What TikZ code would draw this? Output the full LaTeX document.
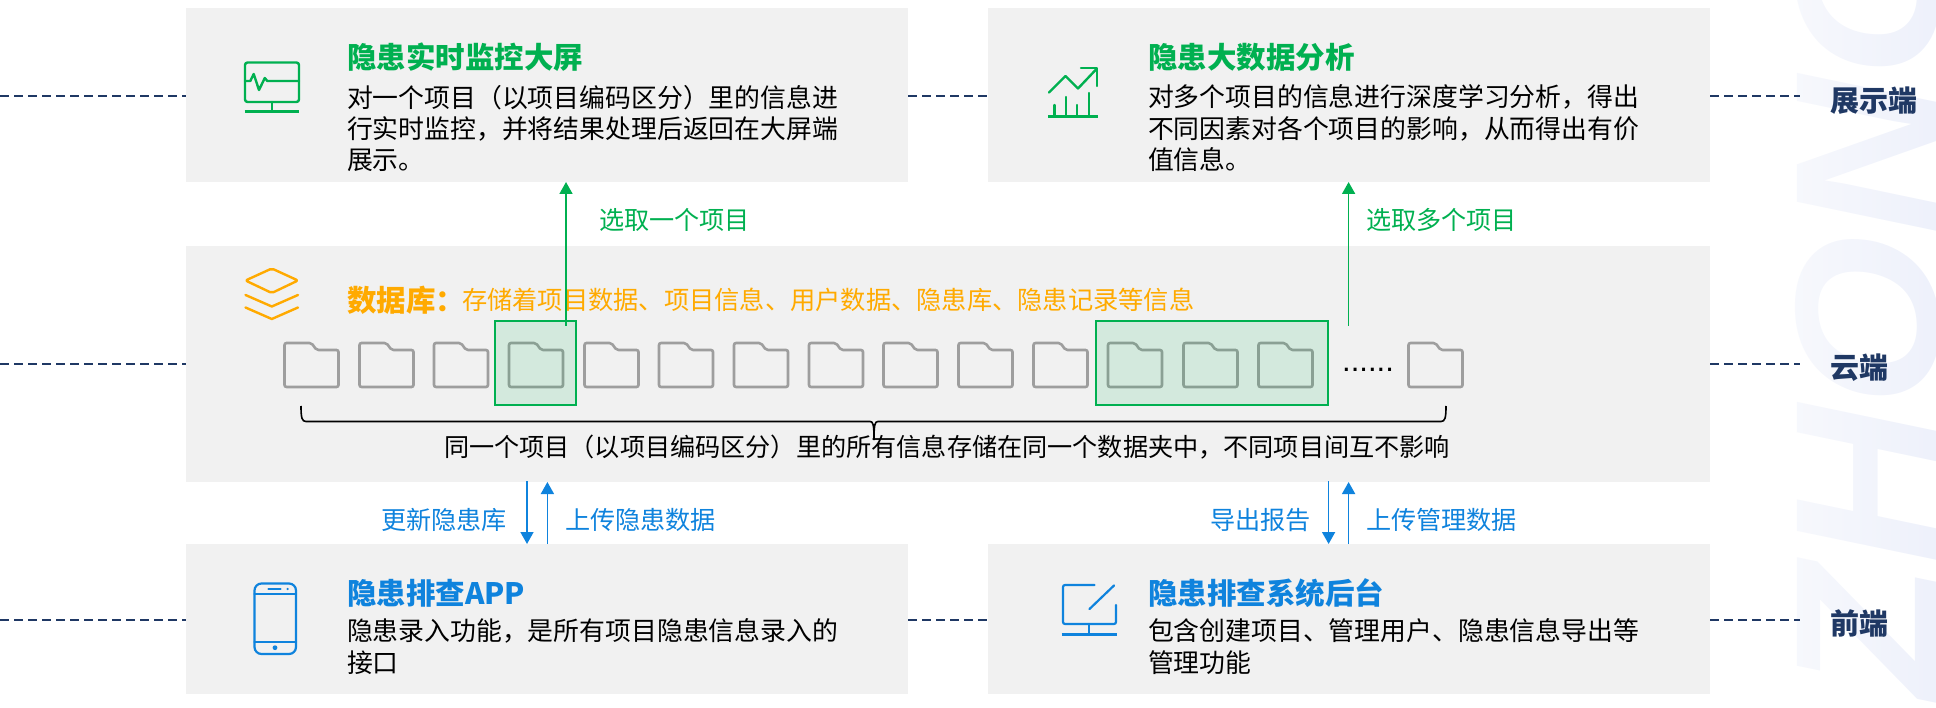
\documentclass[tikz,border=0pt]{standalone}
\usepackage{fontspec}
\usetikzlibrary{arrows.meta,fadings}
\setmainfont{Noto Sans CJK SC}
\newfontfamily\wmfont{Liberation Sans}
\definecolor{boxgray}{HTML}{F1F1F1}
\definecolor{gr}{HTML}{00B050}
\definecolor{bl}{HTML}{0F83DD}
\definecolor{orng}{HTML}{FFAA00}
\definecolor{navy}{HTML}{1F3864}
\definecolor{fold}{HTML}{9E9E9E}
\definecolor{wm}{HTML}{EEF1FB}
\tikzset{
  panel/.style={fill=boxgray,draw=none,anchor=north west,inner sep=0pt,outer sep=0pt},
  txt/.style={anchor=north west,inner sep=0pt,outer sep=0pt,align=left},
  lab/.style={anchor=west,inner sep=0pt,outer sep=0pt},
  title/.style={lab,font=\fontsize{29.5}{30}\selectfont\bfseries},
  body/.style={txt,font=\fontsize{25.85}{31.4}\selectfont,text=black},
  small/.style={lab,font=\fontsize{25.15}{25}\selectfont},
  side/.style={lab,text=navy,font=\fontsize{29}{29}\selectfont\bfseries},
  dashline/.style={navy,line width=1.5pt,dash pattern=on 9pt off 5pt},
  garrow/.style={gr,line width=1.7pt,-{Triangle[length=12pt,width=13pt]}},
  barrow/.style={bl,line width=1.7pt,-{Triangle[length=12pt,width=13pt]}},
  folderline/.style={fold,line width=2.6pt,line join=round},
  pick/.style={fill=gr,fill opacity=.12,draw=gr,line width=2pt,anchor=north west,inner sep=0pt,outer sep=0pt},
  gicon/.style={gr,line width=2.4pt,line join=round,line cap=round},
  bicon/.style={bl,line width=2.2pt,line join=round,line cap=round},
  oicon/.style={orng,line width=2.4pt,line join=round,line cap=round},
}
\begin{document}
\begin{tikzpicture}[x=1pt,y=-1pt]
\useasboundingbox (0,0) rectangle (1936,708);
% watermark
\begin{scope}
\clip (0,0) rectangle (1936,708);
\node[rotate=90,xscale=1.07,anchor=base west,inner sep=0pt,text=wm,font=\fontsize{205}{205}\selectfont\wmfont\bfseries\itshape] (mark) at (1938,699) {ZHONG};
\fill[white,opacity=.55,path fading=east] (1790,-2) rectangle (1938,710);
\end{scope}
% panels
\node[panel,minimum width=722pt,minimum height=174pt] (tl) at (186,8) {};
\node[panel,minimum width=722pt,minimum height=174pt] (tr) at (988,8) {};
\node[panel,minimum width=1524pt,minimum height=236pt] (mid) at (186,246) {};
\node[panel,minimum width=722pt,minimum height=150pt] (bl) at (186,544) {};
\node[panel,minimum width=722pt,minimum height=150pt] (br) at (988,544) {};
% side labels
\node[side] (s1) at (1830,101) {展示端};
\node[side] (s2) at (1830,368) {云端};
\node[side] (s3) at (1830,623) {前端};
% dashed
\coordinate (e1) at (0,96); \coordinate (e2) at (0,364); \coordinate (e3) at (0,620);
\coordinate (f1) at (1800,96); \coordinate (f2) at (1800,364); \coordinate (f3) at (1800,620);
\draw[dashline] (e1) -- (e1 -| tl.west);
\draw[dashline] (e1 -| tl.east) -- (e1 -| tr.west);
\draw[dashline] (e1 -| tr.east) -- (f1);
\draw[dashline] (e2) -- (e2 -| mid.west);
\draw[dashline] (e2 -| mid.east) -- (f2);
\draw[dashline] (e3) -- (e3 -| bl.west);
\draw[dashline] (e3 -| bl.east) -- (e3 -| br.west);
\draw[dashline] (e3 -| br.east) -- (f3);
% titles
\node[title,text=gr] (t1) at (347,57) {隐患实时监控大屏};
\node[body] (b1) at (347,85) {对一个项目（以项目编码区分）里的信息进\\行实时监控，并将结果处理后返回在大屏端\\展示。};
\node[title,text=gr] (t2) at (1148,57) {隐患大数据分析};
\node[body] (b2) at (1148,85) {对多个项目的信息进行深度学习分析，得出\\不同因素对各个项目的影响，从而得出有价\\值信息。};
\node[title,text=bl] (t3) at (347,593) {隐患排查APP};
\node[body] (b3) at (347,619) {隐患录入功能，是所有项目隐患信息录入的\\接口};
\node[title,text=bl] (t4) at (1148,593) {隐患排查系统后台};
\node[body] (b4) at (1148,619) {包含创建项目、管理用户、隐患信息导出等\\管理功能};
\node[title,text=orng] (t5) at (347,300) {数据库：};
\node[small,text=orng,font=\fontsize{25.25}{25}\selectfont] (t6) at (462,300) {存储着项目数据、项目信息、用户数据、隐患库、隐患记录等信息};
\node[small,text=black] (t7) at (444,447) {同一个项目（以项目编码区分）里的所有信息存储在同一个数据夹中，不同项目间互不影响};
\node[small,text=gr] (l1) at (599,220) {选取一个项目};
\node[small,text=gr] (l2) at (1366,220) {选取多个项目};
\node[small,text=bl] (l3) at (381,520) {更新隐患库};
\node[small,text=bl] (l4) at (565,520) {上传隐患数据};
\node[small,text=bl] (l5) at (1210,520) {导出报告};
\node[small,text=bl] (l6) at (1366,520) {上传管理数据};
% folders
\foreach \fx in {284.5,359.5,434,509,584.5,659,734,809,883.5,958.5,1033.5,1108,1183.5,1258.5,1408.5}{
  \draw[folderline,rounded corners=2pt] (\fx,350) -- (\fx,343) -- (\fx+27,343) -- (\fx+32,350) -- (\fx+54,350) -- (\fx+54,387) -- (\fx,387) -- cycle;
}
\node[anchor=base west,inner sep=0pt,text=black,font=\fontsize{31}{31}\selectfont\wmfont] (dots) at (1342,372) {......};
% pick boxes
\node[pick,minimum width=81pt,minimum height=84pt] (p1) at (495,321) {};
\node[pick,minimum width=232pt,minimum height=84pt] (p2) at (1096,321) {};
% green arrows
\coordinate (a1) at (566,326); \coordinate (a2) at (1348.6,326);
\draw[garrow] (a1) -- (a1 |- tl.south);
\draw[garrow] (a2) -- (a2 |- tr.south);
% blue arrows
\coordinate (c1) at (527,481); \coordinate (c2) at (547.4,544);
\coordinate (c3) at (1328.6,481); \coordinate (c4) at (1348.6,544);
\draw[barrow] (c1) -- (c1 |- bl.north);
\draw[barrow] (c2) -- (c2 |- mid.south);
\draw[barrow] (c3) -- (c3 |- br.north);
\draw[barrow] (c4) -- (c4 |- mid.south);
% brace
\draw[black,line width=1.6pt] (301,406) .. controls (301,418) and (302,421.5) .. (306,421.5) -- (870,421.5) .. controls (873,421.5) and (874,424) .. (874,440);
\draw[black,line width=1.6pt] (1446,406) .. controls (1446,418) and (1445,421.5) .. (1441,421.5) -- (878,421.5) .. controls (875,421.5) and (874,424) .. (874,440);
% monitor icon
\draw[gicon,rounded corners=2.5pt] (245,62.5) rectangle (299,102);
\draw[gicon] (245,81) -- (250.3,81) -- (253.7,74) -- (259,90) -- (264.8,78) -- (267.3,81) -- (299,81);
\draw[gicon] (271.8,102) -- (271.8,111.5);
\draw[gicon,line width=3pt,line cap=butt] (244.5,111.5) -- (299,111.5);
% chart icon
\draw[gicon] (1049,92.5) -- (1065.5,76) -- (1078,88.5) -- (1096.5,69);
\draw[gicon] (1081,68) -- (1097,68) -- (1097,86);
\draw[gicon] (1054.5,116) -- (1054.5,105);
\draw[gicon] (1066,116) -- (1066,97);
\draw[gicon] (1077,116) -- (1077,105);
\draw[gicon] (1089,116) -- (1089,93);
\draw[gicon,line width=3pt,line cap=butt] (1048,116.5) -- (1098,116.5);
% layers icon
\draw[oicon,rounded corners=2pt] (245.5,280.5) -- (271.8,268.5) -- (298,280.5) -- (271.8,293) -- cycle;
\draw[oicon] (245.5,295) -- (271.8,306.5) -- (298,295);
\draw[oicon] (245.5,307.5) -- (271.8,319) -- (298,307.5);
% phone icon
\draw[bicon,rounded corners=7pt] (254.5,583.5) rectangle (296,654);
\draw[bicon] (254.5,594) -- (296,594);
\draw[bicon] (254.5,641.7) -- (296,641.7);
\draw[bicon] (268.5,589) -- (280.5,589);
\fill[bl] (275,647.7) circle (2.4pt);
\fill[bl] (287.6,589) circle (1.2pt);
% edit icon
\draw[bicon,rounded corners=2pt] (1094.6,585) -- (1063,585) -- (1063,624) -- (1116,624) -- (1116,605);
\draw[bicon] (1089.5,609) -- (1114,585.5);
\draw[bicon] (1089,624) -- (1089,634);
\draw[bicon,line width=3pt,line cap=butt] (1061.6,634) -- (1116.5,634);
\end{tikzpicture}
\end{document}
